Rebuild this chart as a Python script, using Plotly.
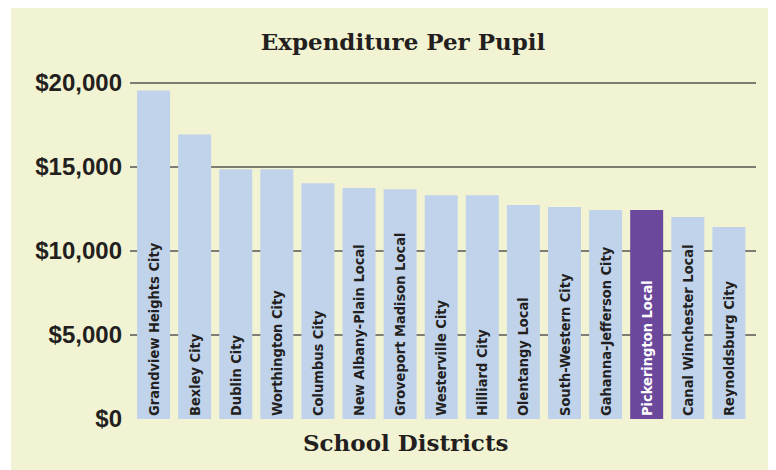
import plotly.graph_objects as go

districts = [
    "Grandview Heights City", "Bexley City", "Dublin City", "Worthington City",
    "Columbus City", "New Albany-Plain Local", "Groveport Madison Local",
    "Westerville City", "Hilliard City", "Olentangy Local", "South-Western City",
    "Gahanna-Jefferson City", "Pickerington Local", "Canal Winchester Local",
    "Reynoldsburg City",
]
spending = [19530, 16920, 14850, 14850, 14020, 13730, 13670, 13310, 13310,
            12720, 12600, 12430, 12430, 12010, 11420]
highlight = "Pickerington Local"

y_ticks = [0, 5000, 10000, 15000, 20000]
y_tick_labels = ["$0", "$5,000", "$10,000", "$15,000", "$20,000"]

bar_colors = ["#6b489c" if d == highlight else "#c0d3ea" for d in districts]
text_colors = ["#ffffff" if d == highlight else "#231f20" for d in districts]

slab = "DejaVu Serif, serif"

fig = go.Figure()
fig.add_trace(go.Bar(
    x=districts, y=spending,
    marker=dict(color=bar_colors, line=dict(width=0)),
    text=districts,
    textposition="inside",
    insidetextanchor="start",
    textangle=-90,
    constraintext="none",
    insidetextfont=dict(family="DejaVu Sans Condensed, Roboto, sans-serif", size=14.5,
                        color=text_colors, weight="bold"),
    hoverinfo="x+y",
))

# yellow panel behind the chart
fig.add_shape(type="rect", xref="paper", yref="paper",
              x0=(11 - 130) / 626, x1=(773 - 130) / 626,
              y0=(419 - 478) / 338, y1=(419 - 6) / 338,
              fillcolor="#f2f3d2", line=dict(width=0), layer="below")

# x axis title sits a bit left of the plot centre
fig.add_annotation(text="School Districts", xref="paper", yref="paper",
                   x=(405 - 130) / 626, y=(419 - 442) / 338,
                   xanchor="center", yanchor="middle", showarrow=False,
                   font=dict(family=slab, size=23, color="#231f20", weight="bold"))

fig.update_layout(
    width=776, height=470,
    margin=dict(l=122, r=28, t=73, b=59),
    paper_bgcolor="white",
    plot_bgcolor="rgba(0,0,0,0)",
    bargap=0.197,
    showlegend=False,
    title=dict(text="Expenditure Per Pupil", x=395 / 776, xanchor="center",
               y=1 - 34 / 470, yanchor="middle",
               font=dict(family=slab, size=23, color="#231f20", weight="bold")),
)
fig.update_xaxes(
    range=[-0.573, 14.66], showticklabels=False, showgrid=False, zeroline=False,
    automargin=False,
)
fig.update_yaxes(
    range=[0, 20100], tickvals=y_ticks, ticktext=y_tick_labels,
    showgrid=True, gridcolor="#7d7d74", gridwidth=1.5, zeroline=False,
    automargin=False, ticklabelstandoff=7,
    tickfont=dict(family="Liberation Sans", size=24, color="#231f20", weight="bold"),
)

fig.write_html("out.html")
